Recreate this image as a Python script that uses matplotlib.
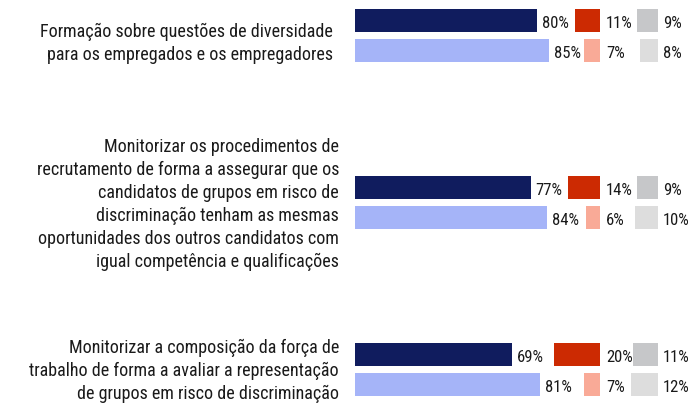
import numpy as np
import matplotlib.pyplot as plt
import matplotlib.transforms as mtransforms

# categories (top to bottom)
categories = [
    "Formação sobre questões de diversidade\npara os empregados e os empregadores",
    "Monitorizar os procedimentos de\nrecrutamento de forma a assegurar que os\n"
    "candidatos de grupos em risco de\ndiscriminação tenham as mesmas\n"
    "oportunidades dos outros candidatos com\nigual competência e qualificações",
    "Monitorizar a composição da força de\ntrabalho de forma a avaliar a representação\n"
    "de grupos em risco de discriminação",
]

# two rows per category: first row (dark colours), second row (light colours)
yes_row1 = [80, 77, 69]
no_row1 = [11, 14, 20]
dk_row1 = [9, 9, 11]

yes_row2 = [85, 84, 81]
no_row2 = [7, 6, 7]
dk_row2 = [8, 10, 12]

colors_row1 = ["#101C5E", "#CC2A02", "#C6C7C9"]
colors_row2 = ["#A5B4F8", "#F9AA97", "#DDDDDD"]

font = ["Roboto Condensed", "Liberation Sans", "DejaVu Sans"]
text_color = "#1a1a1a"

W, H, DPI = 6.92, 4.05, 100
px_per_unit = 2.28          # pixels per percentage point
x0_px = 355                 # where the bars start
group_px = 167              # vertical distance between groups
top_px = 35.6               # centre of first group

# label nudges (px): right edge and downward shift per category
label_right_px = [333, 339, 339]
label_down_px = [8, 2, 1]

fig = plt.figure(figsize=(W, H), dpi=DPI)
ax = fig.add_axes([0, 0, 1, 1])
ax.set_xlim(-x0_px / px_per_unit, (W * DPI - x0_px) / px_per_unit)
ax.set_ylim((H * DPI - top_px) / group_px, -top_px / group_px)
ax.axis("off")

no_right = (600 - x0_px) / px_per_unit   # red column right edge
dk_right = (658 - x0_px) / px_per_unit   # gray column right edge
row_off = 15 / group_px
bar_h = 23 / group_px

def px_offset(dx_px, dy_px=0):
    return mtransforms.offset_copy(ax.transData, fig=fig, x=dx_px * 72 / DPI,
                                   y=-dy_px * 72 / DPI, units="points")

for i in range(len(categories)):
    rows = [
        (i - row_off, yes_row1[i], no_row1[i], dk_row1[i], colors_row1),
        (i + row_off, yes_row2[i], no_row2[i], dk_row2[i], colors_row2),
    ]
    for y, yes, no, dk, cols in rows:
        ax.barh(y, yes, left=0, height=bar_h, color=cols[0])
        ax.barh(y, no, left=no_right - no, height=bar_h, color=cols[1])
        ax.barh(y, dk, left=dk_right - dk, height=bar_h, color=cols[2])
        ax.text(yes, y, f"{yes}%", transform=px_offset(5, 1), ha="left", va="center_baseline",
                fontsize=12, family=font, color=text_color)
        ax.text(no_right, y, f"{no}%", transform=px_offset(6, 1), ha="left", va="center_baseline",
                fontsize=12, family=font, color=text_color)
        ax.text(dk_right, y, f"{dk}%", transform=px_offset(5, 1), ha="left", va="center_baseline",
                fontsize=12, family=font, color=text_color)

    ax.text(0, i, categories[i], transform=px_offset(label_right_px[i] - x0_px, label_down_px[i]),
            ha="right", va="center", multialignment="right",
            fontsize=13, family=font, color=text_color, linespacing=1.35)

plt.savefig("out.png", dpi=DPI)
plt.close()
